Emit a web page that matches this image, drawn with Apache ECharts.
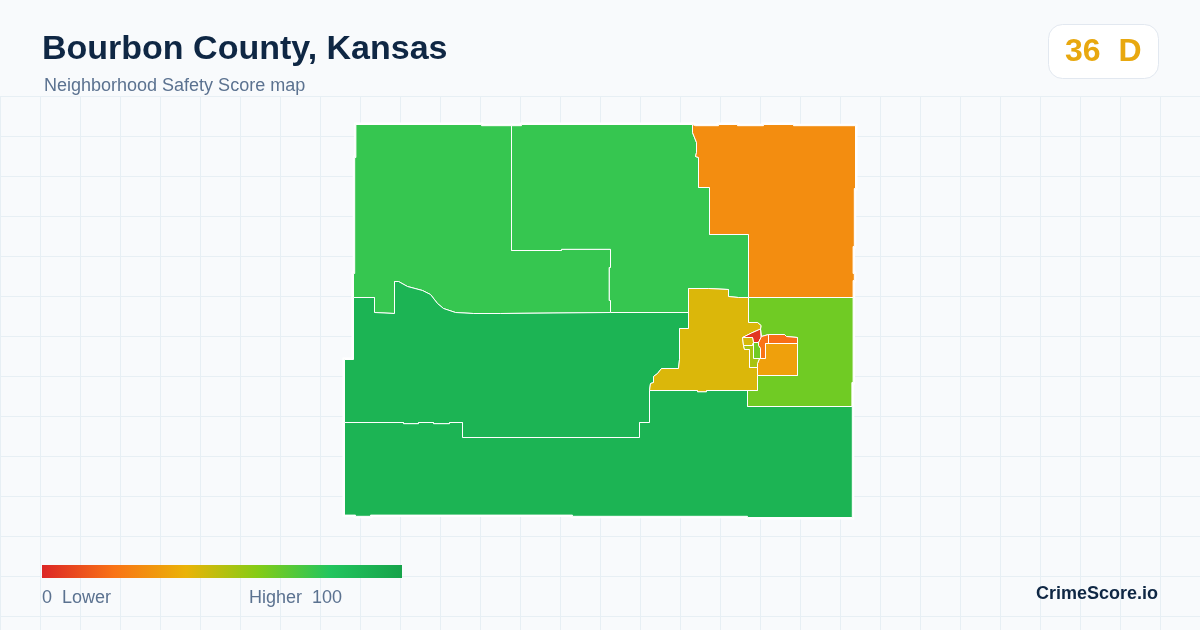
<!DOCTYPE html>
<html><head><meta charset="utf-8">
<style>html,body{margin:0;padding:0;background:#f8fafc}#c{width:1200px;height:630px}</style>
<script src="https://cdn.jsdelivr.net/npm/echarts@6/dist/echarts.min.js"></script>
</head><body><div id="c"></div>
<script>
const titleText = "Bourbon County, Kansas";
const subtitleText = "Neighborhood Safety Score map";
const overallScore = "36";
const overallGrade = "D";
const legendLow = "0  Lower";
const legendHigh = "Higher  100";
const brandText = "CrimeScore.io";
const scaleColors = ["#dc2626","#f97316","#eab308","#84cc16","#22c55e","#16a34a"];

const tractNames = ["Northwest","North Central","Northeast","Central West","South","East","Fort Scott West","Fort Scott Core","Fort Scott North","Fort Scott Northeast","Fort Scott Southeast","Fort Scott Mid","Fort Scott Pale","Fort Scott Olive"];
const tractScores = [76, 76, 28, 90, 90, 64, 43, 4, 20, 19, 34, 64, 44, 53];

// boundary rings, in map units (x east, y south)
const ringNorthwest = [[355.4,124],[481,124],[481,125.2],[511,125.2],[511,250],[561,250],[561,248.8],[610,248.8],[610,267],[608.8,267],[608.8,300],[610,300],[610,312],[500,313],[473,313],[455,312],[443,308],[437,303],[430,294],[422,290],[407,286],[398,281],[394,281],[394,313],[374,312],[374,297],[353,297],[353,273],[354.2,273],[354.2,157],[355.4,157]];
const ringNorthCentral = [[511,125.2],[521,125.2],[521,124],[692,124],[692,132],[696,142],[696,152],[695,156],[698,157],[698,187],[709,187],[709,234],[748,234],[748,297],[738,297],[728,296],[728,289],[708,288],[688,288],[688,312],[610,312],[610,300],[608.8,300],[608.8,267],[610,267],[610,248.8],[561,248.8],[561,250],[511,250]];
const ringNortheast = [[692,124],[695,125.2],[718,125.2],[718,124],[737,124],[737,125.2],[763,125.2],[763,124],[793,124],[793,125.2],[855,125.2],[855,188],[853.8,188],[853.8,246],[852.6,246],[852.6,273],[853.8,273],[853.8,280],[852.6,280],[852.6,297],[748,297],[748,234],[709,234],[709,187],[698,187],[698,157],[695,156],[696,152],[696,142],[692,132]];
const ringCentralWest = [[353,297],[374,297],[374,312],[394,313],[394,281],[398,281],[407,286],[422,290],[430,294],[437,303],[443,308],[455,312],[473,313],[500,313],[610,312],[688,312],[688,328],[679,328],[679,359],[678,368],[661,368],[657,373],[653,376],[653,382],[650,383],[649,390],[649,422],[639,422],[639,437],[462,437],[462,422],[449,422],[449,423.2],[433,423.2],[433,422],[418,422],[418,423.2],[403,423.2],[403,422],[344,422],[344,359],[353,359]];
const ringSouth = [[344,422],[403,422],[403,423.2],[418,423.2],[418,422],[433,422],[433,423.2],[449,423.2],[449,422],[462,422],[462,437],[639,437],[639,422],[649,422],[649,390],[697,390],[697,391.2],[706,391.2],[706,390],[747,390],[747,406],[851.8,406],[851.8,517],[747,517],[747,515.8],[572,515.8],[572,514.6],[370,514.6],[370,515.8],[355,515.8],[355,514.6],[344,514.6]];
const ringEast = [[748,297],[852.6,297],[852.6,382],[851.4,382],[851.4,406],[747,406],[747,390],[757,390],[757,375],[797,375],[797,343],[797,337],[786,336],[784,334],[768,334],[761,336],[760.5,337],[760,328.5],[760.5,325],[757,322],[748,322]];
const ringFortScottWest = [[688,288],[708,288],[728,289],[728,296],[738,297],[748,297],[748,322],[757,322],[760.5,325],[760,328.5],[751,332.5],[742,337],[743,345],[744,349],[749,349],[749,367],[757,367],[757,390],[706,390],[706,391.2],[697,391.2],[697,390],[649,390],[650,383],[653,382],[653,376],[657,373],[661,368],[678,368],[679,359],[679,328],[688,328]];
const ringCore = [[742,337],[751,332.5],[760,328.5],[760.5,337],[758,342],[753,342],[752,337]];
const ringNorthL = [[758,342],[761,336],[768,334],[768,343],[765,343],[765,358],[760,358],[760,348],[758,345]];
const ringNortheastBlock = [[768,334],[784,334],[786,336],[797,337],[797,343],[768,343]];
const ringSoutheastBlock = [[765,343],[797,343],[797,375],[757,375],[757,363],[759,358],[765,358]];
const ringMid = [[753,342],[758,342],[758,345],[760,348],[760,358],[753,358]];
const ringPale = [[742,337],[752,337],[753,342],[752,345],[743,345]];
const ringOlive = [[743,345],[752,345],[753,342],[753,358],[759,358],[757,363],[757,367],[749,367],[749,349],[744,349]];
const tractRings = [ringNorthwest,ringNorthCentral,ringNortheast,ringCentralWest,ringSouth,ringEast,ringFortScottWest,ringCore,ringNorthL,ringNortheastBlock,ringSoutheastBlock,ringMid,ringPale,ringOlive];

const geo = {type:"FeatureCollection",features:tractNames.map((n,i)=>({
  type:"Feature",properties:{name:n},
  geometry:{type:"Polygon",coordinates:[tractRings[i].concat([tractRings[i][0]])]}
}))};
echarts.registerMap("bourbon",geo);

const gridLines=[];
const gridStyle={stroke:"#e7eff4",lineWidth:1};
for(let x=0;x<=1200;x+=40)gridLines.push({type:"line",silent:true,shape:{x1:x+0.5,y1:96,x2:x+0.5,y2:630},style:gridStyle,z:0});
for(let y=96;y<=630;y+=40)gridLines.push({type:"line",silent:true,shape:{x1:0,y1:y+0.5,x2:1200,y2:y+0.5},style:gridStyle,z:0});

const font='"Liberation Sans",Arial,sans-serif';
const chart=echarts.init(document.getElementById("c"),null,{renderer:"canvas"});
const identity={project:p=>p,unproject:p=>p};
const mapBox={left:344.5,top:124.5,width:511,height:393};
const barGradient=new echarts.graphic.LinearGradient(0,0,1,0,scaleColors.map((c,i)=>({offset:i/(scaleColors.length-1),color:c})));
chart.setOption({
  animation:false,
  backgroundColor:"#f8fafc",
  geo:Object.assign({map:"bourbon",projection:identity,roam:false,silent:true,z:1,
    label:{show:false},emphasis:{disabled:true},
    itemStyle:{areaColor:"#ffffff",borderColor:"#ffffff",borderWidth:4}},mapBox),
  visualMap:{type:"continuous",min:0,max:100,seriesIndex:0,show:false,inRange:{color:scaleColors}},
  series:[Object.assign({type:"map",map:"bourbon",z:2,
    projection:identity,roam:false,silent:true,selectedMode:false,
    label:{show:false},emphasis:{disabled:true},
    itemStyle:{borderColor:"#ffffff",borderWidth:1},
    data:tractNames.map((n,i)=>({name:n,value:tractScores[i]}))},mapBox)],
  graphic:{elements:gridLines.concat([
    {type:"rect",shape:{x:42,y:565,width:360,height:13},style:{fill:barGradient},z:5},
    {type:"text",left:42,top:33,style:{text:titleText,font:"bold 34px "+font,fill:"#0f2744"},z:5},
    {type:"text",left:44,top:77,style:{text:subtitleText,font:"18px "+font,fill:"#5b7290"},z:5},
    {type:"rect",shape:{x:1048.5,y:24.5,width:110,height:54,r:14},style:{fill:"#ffffff",stroke:"#e2e8f0",lineWidth:1},z:5},
    {type:"text",left:1065,top:36,style:{text:overallScore+"  "+overallGrade,font:"bold 32px "+font,fill:"#e8a80f"},z:6},
    {type:"text",left:42,top:589,style:{text:legendLow,font:"18px "+font,fill:"#5b7290"},z:5},
    {type:"text",left:249,top:589,style:{text:legendHigh,font:"18px "+font,fill:"#5b7290"},z:5},
    {type:"text",right:42,top:585,style:{text:brandText,font:"bold 18px "+font,fill:"#0f2744"},z:5}
  ])}
});
</script></body></html>
